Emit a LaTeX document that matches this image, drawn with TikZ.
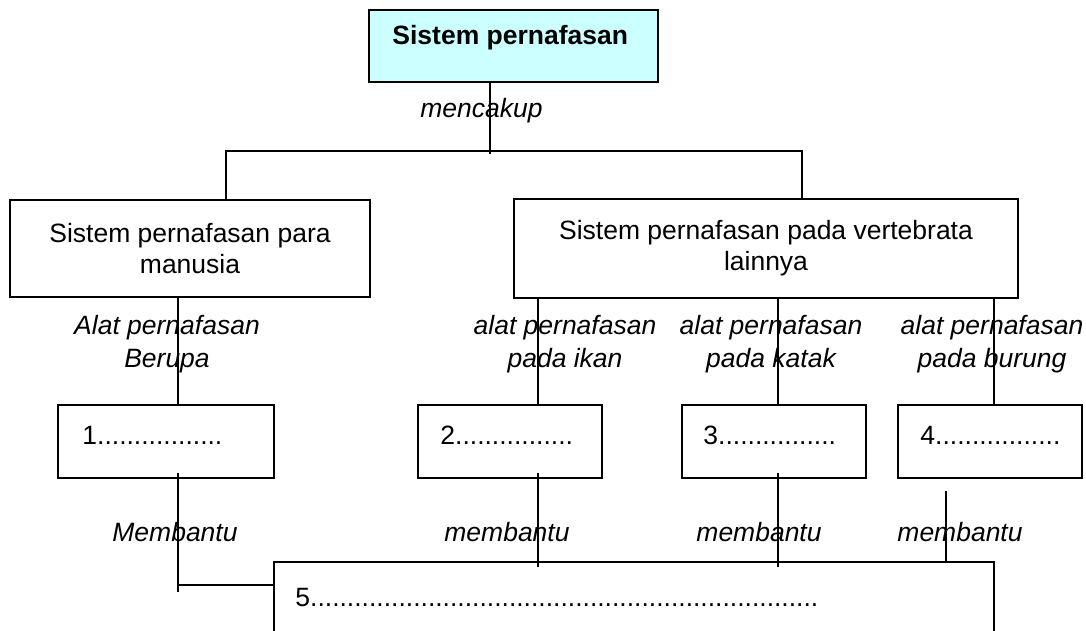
\documentclass[tikz,border=0pt]{standalone}
\usepackage{fontspec}
\setmainfont{Liberation Sans}
\usetikzlibrary{positioning}
\definecolor{kepala}{HTML}{CCFFFF}
\def\px{0.453pt}

\begin{document}
\begin{tikzpicture}[x=\px, y=-\px, font=\fontsize{12}{14}\selectfont,
    box/.style={draw, line width=0.9pt, inner sep=0pt, align=center},
    ket/.style={font=\fontsize{12}{15}\selectfont\itshape, align=center, inner sep=0pt},
    isi/.style={inner sep=0pt, anchor=west},
    line/.style={line width=0.7pt}]

  \clip (0,0) rectangle (1086,630);

  \node[box, fill=kepala, minimum width=289*\px, minimum height=72*\px] (sistem) at (513.5,46) {};
  \node[isi, font=\fontsize{12}{14}\selectfont\bfseries] (judul) at (392,38) {Sistem pernafasan};
  \node[ket] (cakup) at (481.5,111) {mencakup};

  \node[box, minimum width=360*\px, minimum height=97*\px] (manusia) at (190,248.5) {Sistem pernafasan para\\manusia};
  \node[box, minimum width=504*\px, minimum height=99*\px] (vertebrata) at (766,248.5) {Sistem pernafasan pada vertebrata\\lainnya};

  \node[ket] (ket1) at (167,344) {Alat pernafasan\\Berupa};
  \node[ket] (ket2) at (565,344) {alat pernafasan\\pada ikan};
  \node[ket] (ket3) at (771,344) {alat pernafasan\\pada katak};
  \node[ket] (ket4) at (992,344) {alat pernafasan\\pada burung};

  \node[box, minimum width=216*\px, minimum height=73*\px] (organ1) at (166,441.5) {};
  \node[box, minimum width=184*\px, minimum height=73*\px] (organ2) at (510,441.5) {};
  \node[box, minimum width=184*\px, minimum height=73*\px] (organ3) at (774,441.5) {};
  \node[box, minimum width=184*\px, minimum height=73*\px] (organ4) at (990,441.5) {};
  \node[isi] (isi1) at (82,435) {1.................};
  \node[isi] (isi2) at (440,435) {2................};
  \node[isi] (isi3) at (703,435) {3................};
  \node[isi] (isi4) at (920,435) {4.................};

  \node[ket] (membantu1) at (175,532) {Membantu};
  \node[ket] (membantu2) at (507,532) {membantu};
  \node[ket] (membantu3) at (759,532) {membantu};
  \node[ket] (membantu4) at (960,532) {membantu};

  \node[box, minimum width=720*\px, minimum height=100*\px] (fungsi) at (634,612) {};
  \node[isi] (isi5) at (295,597) {5.....................................................................};

  \coordinate (split) at (490,151);
  \coordinate (tL) at (226,151);
  \coordinate (tR) at (802,151);
  \coordinate (c1) at (178,0);
  \coordinate (c2) at (538,0);
  \coordinate (c3) at (778,0);
  \coordinate (c4) at (994,0);
  \coordinate (d4) at (946,0);
  \coordinate (k5) at (178,585);

  \draw[line, shorten >=-1.4pt] (sistem.south -| split) -- (split);
  \draw[line] (manusia.north -| tL) -- (tL) -- (tR) -- (vertebrata.north -| tR);
  \draw[line] (manusia.south -| c1) -- (organ1.north -| c1);
  \foreach \i/\j in {2/c2, 3/c3, 4/c4}
    \draw[line] (vertebrata.south -| \j) -- (organ\i.north -| \j);

  \draw[line, shorten <=-2.7pt, shorten >=-3.2pt] (organ1.south -| c1) -- (k5);
  \draw[line] (k5) -- (k5 -| fungsi.west);
  \foreach \i/\j in {2/c2, 3/c3}
    \draw[line, shorten <=-2.7pt, shorten >=-2.7pt] (organ\i.south -| \j) -- (fungsi.north -| \j);
  \draw[line, shorten <=5.4pt] (organ4.south -| d4) -- (fungsi.north -| d4);

\end{tikzpicture}
\end{document}
